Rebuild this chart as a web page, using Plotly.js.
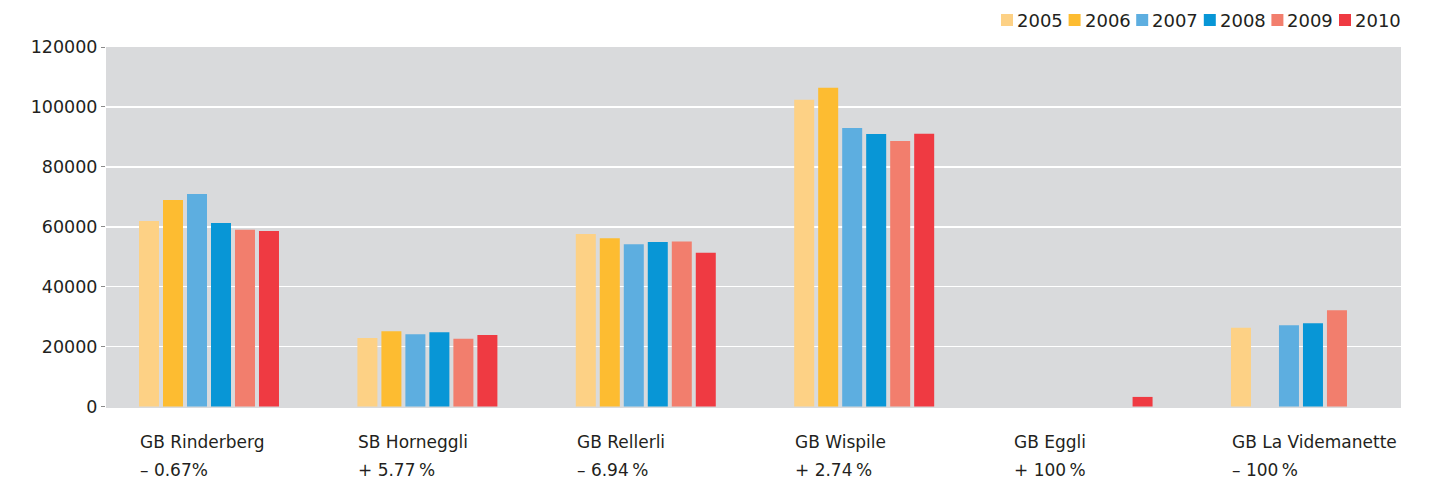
<!DOCTYPE html>
<html>
<head>
<meta charset="utf-8">
<script src="https://cdn.plot.ly/plotly-3.0.1.min.js"></script>
<style>html,body{margin:0;padding:0;background:#fff;}#chart{width:1436px;height:483px;}</style>
</head>
<body>
<div id="chart"></div>
<script>
// ---- data ----
const years = ['2005', '2006', '2007', '2008', '2009', '2010'];
const stations = ['GB Rinderberg', 'SB Horneggli', 'GB Rellerli', 'GB Wispile', 'GB Eggli', 'GB La Videmanette'];
const changes = ['\u2013 0.67%', '+ 5.77\u2009%', '\u2013 6.94\u2009%', '+ 2.74\u2009%', '+ 100\u2009%', '\u2013 100\u2009%'];
const v2005 = [61900, 22900, 57600, 102400, null, 26300];
const v2006 = [68900, 25100, 56200, 106400, null, null];
const v2007 = [70900, 24100, 54200, 93000, null, 27100];
const v2008 = [61250, 24800, 54900, 91000, null, 27750];
const v2009 = [59000, 22600, 55100, 88600, null, 32100];
const v2010 = [58600, 23900, 51280, 91030, 3200, null];
const yTicks = [0, 20000, 40000, 60000, 80000, 100000, 120000];

// ---- style ----
const colors = ['#fdd185', '#fdbc31', '#5daee0', '#0896d6', '#f27e6d', '#ef3a42'];
const series = [v2005, v2006, v2007, v2008, v2009, v2010];
const textColor = '#231f20';
const FONT = 'DejaVu Sans, sans-serif';

const W = 1436, H = 483;
const M = {l: 106, r: 35, t: 47, b: 75};
const PW = W - M.l - M.r, PH = H - M.t - M.b;
const px = x => (x - M.l) / PW;
const py = y => (H - M.b - y) / PH;

const traces = years.map((yr, i) => ({
  type: 'bar',
  name: yr,
  x: stations,
  y: series[i],
  marker: {color: colors[i], line: {width: 0}},
  showlegend: false,
  hoverinfo: 'x+y+name'
}));

const annotations = [];
const shapes = [];
stations.forEach((s, i) => {
  annotations.push({xref: 'x', yref: 'paper', x: s, y: 0, xshift: -70, yshift: -23,
    xanchor: 'left', yanchor: 'top', showarrow: false, borderpad: 0,
    text: s, font: {family: FONT, size: 17, color: textColor}});
  annotations.push({xref: 'x', yref: 'paper', x: s, y: 0, xshift: -70, yshift: -51,
    xanchor: 'left', yanchor: 'top', showarrow: false, borderpad: 0,
    text: changes[i], font: {family: FONT, size: 17, color: textColor}});
});

// custom compact legend
const legStart = 1001, legStep = 67.6;
years.forEach((yr, i) => {
  const x0 = legStart + i * legStep;
  shapes.push({type: 'rect', xref: 'paper', yref: 'paper',
    x0: px(x0), x1: px(x0 + 12), y0: py(26), y1: py(14),
    fillcolor: colors[i], line: {width: 0}});
  annotations.push({xref: 'paper', yref: 'paper', x: px(x0 + 15), y: py(20.5),
    xanchor: 'left', yanchor: 'middle', showarrow: false, borderpad: 0,
    text: yr, font: {family: FONT, size: 18, color: textColor}});
});

const layout = {
  width: W, height: H,
  margin: M,
  paper_bgcolor: '#ffffff',
  plot_bgcolor: '#d9dadc',
  barmode: 'group',
  bargap: 0.3407,
  bargroupgap: 0.1667,
  showlegend: false,
  font: {family: FONT, color: textColor},
  xaxis: {
    type: 'category',
    range: [-0.4716, 5.458],
    showticklabels: false,
    ticks: '',
    showgrid: false,
    zeroline: false,
    showline: false,
    fixedrange: true
  },
  yaxis: {
    range: [-500, 120000],
    tickvals: yTicks,
    ticktext: yTicks.map(String),
    ticks: 'outside',
    ticklen: 4,
    tickwidth: 1,
    tickcolor: '#8a8a8a',
    tickfont: {family: FONT, size: 17.5, color: textColor},
    showgrid: true,
    gridcolor: '#ffffff',
    gridwidth: 1.5,
    zeroline: true,
    zerolinecolor: '#d9dadc',
    zerolinewidth: 1,
    showline: false,
    fixedrange: true
  },
  annotations: annotations,
  shapes: shapes
};

Plotly.newPlot('chart', traces, layout, {displayModeBar: false, staticPlot: true});
</script>
</body>
</html>
